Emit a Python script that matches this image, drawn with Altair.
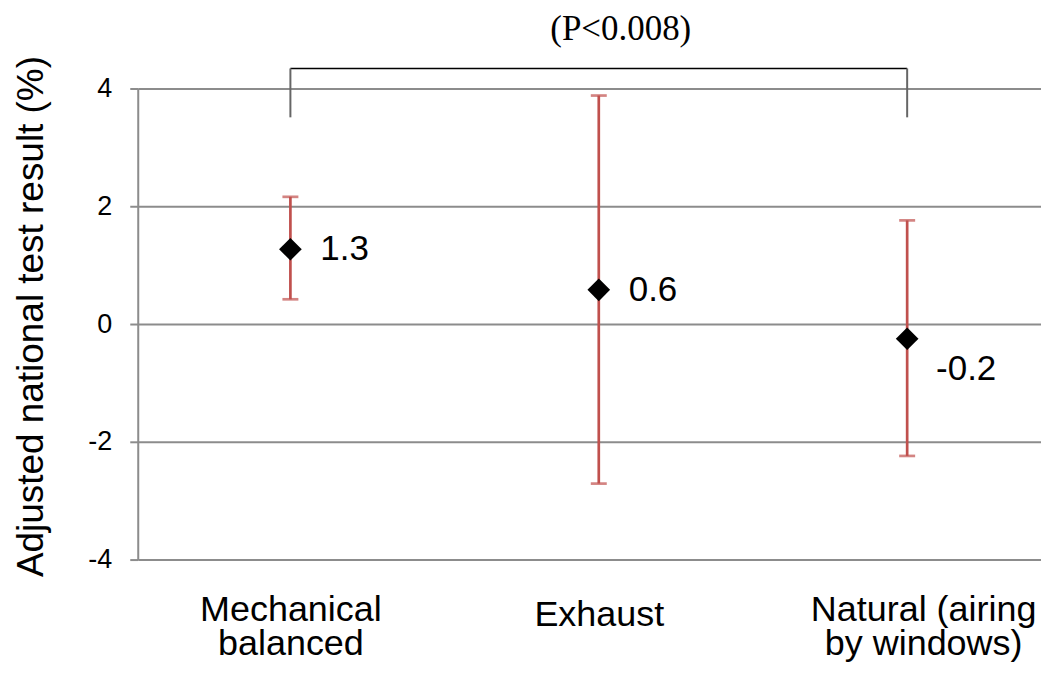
import altair as alt
import pandas as pd

# ---- data ----
categories = ["Mechanical\nbalanced", "Exhaust", "Natural (airing\nby windows)"]
cat_index = [1, 2, 3]
means = [1.27, 0.58, -0.25]
lower = [0.42, -2.71, -2.24]
upper = [2.16, 3.88, 1.76]
value_labels = ["1.3", "0.6", "-0.2"]
y_ticks = [-4, -2, 0, 2, 4]

# significance bracket annotation
bracket_from = [1]
bracket_to = [3]
bracket_top = [4.34]
bracket_bottom = [3.51]
p_text = ["(P<0.008)"]
p_text_y = [4.83]

df = pd.DataFrame({"pos": cat_index, "cat": categories, "mean": means, "lo": lower,
                   "hi": upper, "label": value_labels})
bracket_h = pd.DataFrame({"pos": bracket_from, "pos_end": bracket_to, "y": bracket_top})
bracket_v = pd.DataFrame({
    "pos": bracket_from + bracket_to,
    "y": bracket_bottom * 2,
    "y2": bracket_top * 2,
})
p_df = pd.DataFrame({"pos": [2], "y": p_text_y, "text": p_text})

W, H = 905, 472
RED = "#C0504D"
GRID = "#8C8C8C"
SANS = "Liberation Sans"

# category slots: each category occupies one unit; the picture is cropped on the right
xscale = alt.Scale(domain=[0.505, 3.434], nice=False, zero=False)
cat_array = "[" + ",".join("'" + c.replace("\n", "\\n") + "'" for c in categories) + "]"
x_axis = alt.Axis(
    title=None, domain=False, ticks=False, grid=False, values=cat_index,
    labelFont=SANS, labelFontSize=36, labelColor="black", labelLimit=0,
    labelAngle=0, labelLineHeight=34, labelBaseline="top", labelFlush=False,
    labelOverlap=False,
    labelPadding={"condition": {"test": "datum.value === 2", "value": 38}, "value": 33},
    labelOffset={"condition": {"test": "datum.value === 3", "value": 16}, "value": 0},
    labelExpr="split(" + cat_array + "[datum.value - 1], '\\n')",
)
x_enc = alt.X("pos:Q", scale=xscale, axis=x_axis)
x_plain = alt.X("pos:Q", scale=xscale)

yscale = alt.Scale(domain=[-4, 4], nice=False, zero=False)
y_axis = alt.Axis(
    values=y_ticks, title="Adjusted national test result (%)",
    titleFont=SANS, titleFontSize=37, titleFontWeight="normal", titleColor="black",
    titleAngle=270, titleX=-95, titleY=228, titleAlign="center", titleBaseline="alphabetic",
    labelFont=SANS, labelFontSize=27, labelColor="black", labelPadding=18,
    labelExpr="'' + datum.value",
    tickSize=8, tickColor=GRID, tickWidth=2,
    domainColor=GRID, domainWidth=2,
    grid=True, gridColor=GRID, gridWidth=2,
)

base = alt.Chart(df)

bars = base.mark_rule(color=RED, strokeWidth=2.7).encode(
    x=x_enc,
    y=alt.Y("lo:Q", scale=yscale, axis=y_axis),
    y2="hi:Q",
)
cap_hi = base.mark_tick(color=RED, size=16, thickness=2.7, orient="horizontal").encode(
    x=x_plain, y=alt.Y("hi:Q", scale=yscale)
)
cap_lo = base.mark_tick(color=RED, size=16, thickness=2.7, orient="horizontal").encode(
    x=x_plain, y=alt.Y("lo:Q", scale=yscale)
)
points = base.mark_point(shape="diamond", filled=True, size=515, color="black", opacity=1).encode(
    x=x_plain, y=alt.Y("mean:Q", scale=yscale)
)
labels_a = base.transform_filter("datum.mean >= 0").mark_text(
    align="left", baseline="middle", dx=30, font=SANS, fontSize=35, color="black"
).encode(x=x_plain, y=alt.Y("mean:Q", scale=yscale), text="label:N")
labels_b = base.transform_filter("datum.mean < 0").mark_text(
    align="left", baseline="middle", dx=29, dy=30, font=SANS, fontSize=35, color="black"
).encode(x=x_plain, y=alt.Y("mean:Q", scale=yscale), text="label:N")

br_h = alt.Chart(bracket_h).mark_rule(color="black", strokeWidth=1.5).encode(
    x=x_plain, x2="pos_end:Q", y=alt.Y("y:Q", scale=yscale)
)
br_v = alt.Chart(bracket_v).mark_rule(color="#666666", strokeWidth=2).encode(
    x=x_plain, y=alt.Y("y:Q", scale=yscale), y2="y2:Q"
)
p_label = alt.Chart(p_df).mark_text(
    font="Liberation Serif", fontSize=35, align="center", baseline="alphabetic", dx=22, color="black"
).encode(x=x_plain, y=alt.Y("y:Q", scale=yscale), text="text:N")

chart = alt.layer(bars, cap_hi, cap_lo, points, labels_a, labels_b, br_h, br_v, p_label).properties(
    width=W, height=H,
    autosize=alt.AutoSizeParams(type="none"),
    padding={"left": 130, "top": 80, "right": 0, "bottom": 105},
).configure_view(stroke=None).configure(background="white")

chart.save("out.html", embed_options={"renderer": "svg", "actions": False})
